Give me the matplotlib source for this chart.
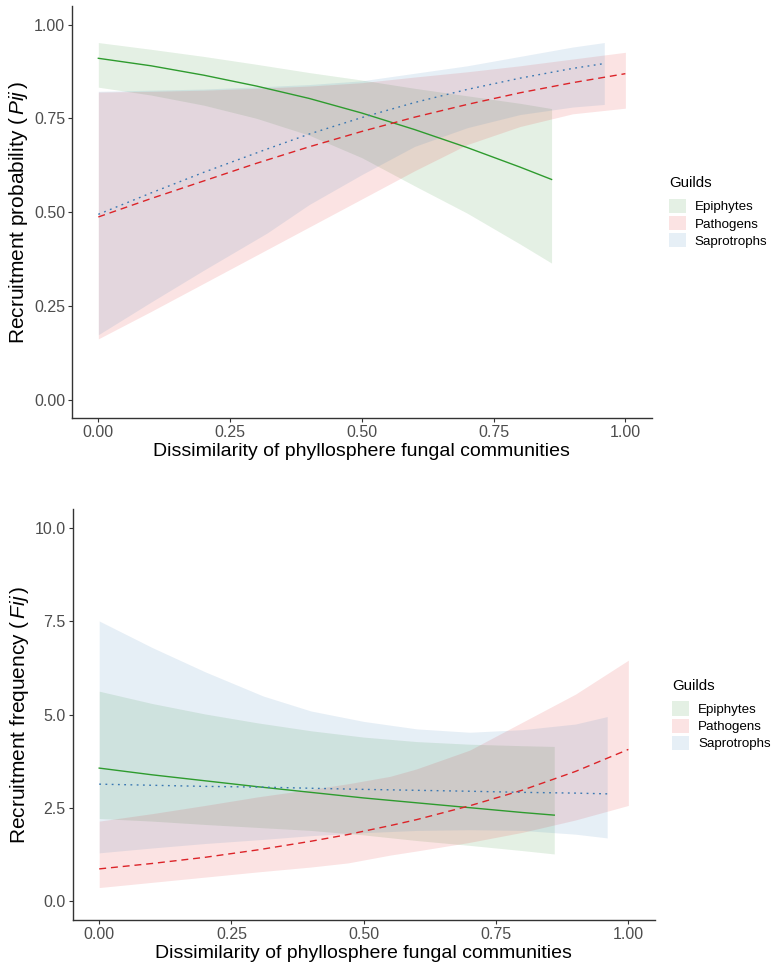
import numpy as np
import matplotlib
matplotlib.use("Agg")
import matplotlib.pyplot as plt
from matplotlib.patches import Patch

plt.rcParams["font.family"] = ["Liberation Sans", "DejaVu Sans"]
plt.rcParams["mathtext.fontset"] = "custom"
plt.rcParams["mathtext.rm"] = "Liberation Sans"
plt.rcParams["mathtext.it"] = "Liberation Sans:italic"

guilds = ["Epiphytes", "Pathogens", "Saprotrophs"]

# ---- top panel: recruitment probability ----
p_epi_x = [0, 0.1, 0.2, 0.3, 0.4, 0.5, 0.6, 0.7, 0.8, 0.86]
p_epi_fit = [0.91, 0.890, 0.865, 0.836, 0.803, 0.764, 0.720, 0.672, 0.620, 0.587]
p_epi_lo = [0.833, 0.812, 0.785, 0.75, 0.705, 0.645, 0.57, 0.497, 0.415, 0.364]
p_epi_hi = [0.952, 0.934, 0.915, 0.894, 0.872, 0.852, 0.83, 0.81, 0.79, 0.776]

p_pat_x = [0, 0.1, 0.2, 0.3, 0.4, 0.5, 0.6, 0.7, 0.8, 0.9, 1.0]
p_pat_fit = [0.487, 0.536, 0.583, 0.630, 0.674, 0.715, 0.753, 0.787, 0.818, 0.845, 0.869]
p_pat_lo = [0.162, 0.235, 0.31, 0.385, 0.46, 0.535, 0.61, 0.68, 0.728, 0.762, 0.777]
p_pat_hi = [0.82, 0.822, 0.825, 0.83, 0.836, 0.845, 0.86, 0.874, 0.89, 0.908, 0.926]

p_sap_x = [0, 0.1, 0.2, 0.32, 0.4, 0.5, 0.6, 0.7, 0.8, 0.9, 0.96]
p_sap_fit = [0.494, 0.551, 0.606, 0.668, 0.708, 0.752, 0.792, 0.827, 0.857, 0.883, 0.896]
p_sap_lo = [0.173, 0.26, 0.345, 0.444, 0.52, 0.60, 0.675, 0.725, 0.76, 0.78, 0.787]
p_sap_hi = [0.822, 0.825, 0.828, 0.835, 0.84, 0.85, 0.87, 0.89, 0.915, 0.94, 0.952]

# ---- bottom panel: recruitment frequency ----
f_epi_x = [0, 0.1, 0.2, 0.3, 0.4, 0.5, 0.6, 0.7, 0.8, 0.86]
f_epi_fit = [3.57, 3.39, 3.23, 3.07, 2.92, 2.77, 2.64, 2.51, 2.38, 2.31]
f_epi_lo = [2.22, 2.15, 2.06, 1.98, 1.9, 1.78, 1.63, 1.5, 1.36, 1.27]
f_epi_hi = [5.63, 5.3, 5.02, 4.78, 4.57, 4.4, 4.28, 4.21, 4.17, 4.15]

f_pat_x = [0, 0.1, 0.2, 0.3, 0.4, 0.47, 0.55, 0.6, 0.7, 0.8, 0.9, 1.0]
f_pat_fit = [0.87, 1.015, 1.18, 1.38, 1.61, 1.79, 2.03, 2.19, 2.56, 2.98, 3.48, 4.07]
f_pat_lo = [0.37, 0.51, 0.65, 0.79, 0.92, 1.03, 1.24, 1.35, 1.58, 1.85, 2.18, 2.57]
f_pat_hi = [2.15, 2.35, 2.57, 2.8, 3.0, 3.15, 3.35, 3.55, 4.05, 4.8, 5.55, 6.46]

f_sap_x = [0, 0.1, 0.2, 0.31, 0.4, 0.5, 0.6, 0.7, 0.8, 0.9, 0.96]
f_sap_fit = [3.14, 3.11, 3.08, 3.06, 3.03, 3.0, 2.975, 2.95, 2.92, 2.9, 2.88]
f_sap_lo = [1.30, 1.43, 1.55, 1.66, 1.76, 1.84, 1.9, 1.92, 1.9, 1.8, 1.7]
f_sap_hi = [7.51, 6.8, 6.15, 5.5, 5.1, 4.82, 4.62, 4.53, 4.6, 4.75, 4.95]

fill_colors = ["#228B22", "#E41A1C", "#377EB8"]
line_colors = ["#2E9B2E", "#DC2328", "#3A78B2"]
line_styles = ["-", (0, (5, 3.5)), (0, (1.3, 3.2))]
fill_alpha = 0.12

fig = plt.figure(figsize=(7.74, 9.64), dpi=100)
ax1 = fig.add_axes([0.093, 0.566, 0.749, 0.428])
ax2 = fig.add_axes([0.094, 0.0456, 0.752, 0.426])

top = [(p_epi_x, p_epi_fit, p_epi_lo, p_epi_hi),
       (p_pat_x, p_pat_fit, p_pat_lo, p_pat_hi),
       (p_sap_x, p_sap_fit, p_sap_lo, p_sap_hi)]
bottom = [(f_epi_x, f_epi_fit, f_epi_lo, f_epi_hi),
          (f_pat_x, f_pat_fit, f_pat_lo, f_pat_hi),
          (f_sap_x, f_sap_fit, f_sap_lo, f_sap_hi)]


def draw_panel(ax, series, ylim, yticks, ylabel, yfmt):
    for i, (x, fit, lo, hi) in enumerate(series):
        ax.fill_between(x, lo, hi, color=fill_colors[i], alpha=fill_alpha, lw=0)
    for i, (x, fit, lo, hi) in enumerate(series):
        ax.plot(x, fit, color=line_colors[i], ls=line_styles[i], lw=1.0)
    ax.set_xlim(-0.05, 1.05)
    ax.set_ylim(*ylim)
    ax.set_xticks([0, 0.25, 0.5, 0.75, 1.0])
    ax.set_xticklabels(["0.00", "0.25", "0.50", "0.75", "1.00"])
    ax.set_yticks(yticks)
    ax.set_yticklabels([yfmt.format(v) for v in yticks])
    for s in ["top", "right"]:
        ax.spines[s].set_visible(False)
    for s in ["left", "bottom"]:
        ax.spines[s].set_linewidth(1.0)
        ax.spines[s].set_color("#333333")
    ax.tick_params(colors="#333333", labelcolor="#4D4D4D", labelsize=11.5,
                   length=3, width=0.8, pad=2)
    ax.set_xlabel("Dissimilarity of phyllosphere fungal communities",
                  fontsize=14, labelpad=2)
    ax.set_ylabel(ylabel, fontsize=15, labelpad=3)
    handles = [Patch(facecolor=fill_colors[i], alpha=fill_alpha, edgecolor="none",
                     label=guilds[i]) for i in range(3)]
    leg = ax.legend(handles=handles, title="Guilds", loc="center left",
                    bbox_to_anchor=(1.03, 0.5), frameon=False, fontsize=9.6,
                    title_fontsize=10.8, handlelength=1.28, handleheight=1.25,
                    handletextpad=0.65, labelspacing=0.2, borderaxespad=0,
                    borderpad=0, alignment="left")
    leg._legend_box.sep = 6
    return leg


draw_panel(ax1, top, (-0.05, 1.05), [0, 0.25, 0.5, 0.75, 1.0],
           r"Recruitment probability ($\,\mathit{Pij}\,$)", "{:.2f}")
draw_panel(ax2, bottom, (-0.5, 10.5), [0, 2.5, 5.0, 7.5, 10.0],
           r"Recruitment frequency ($\,\mathit{Fij}\,$)", "{:.1f}")

fig.savefig("out.png", dpi=100)
